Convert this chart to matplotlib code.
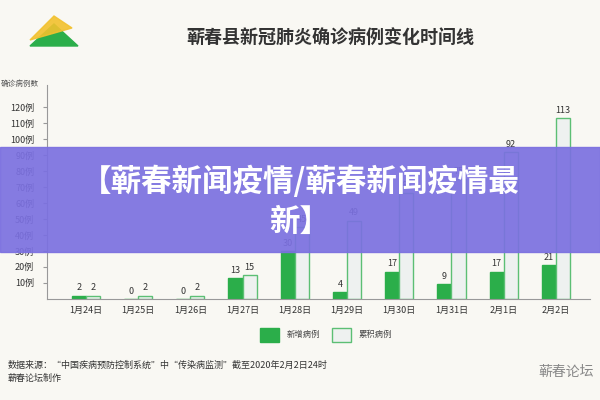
import matplotlib
matplotlib.use("Agg")
import matplotlib.pyplot as plt
import numpy as np
from matplotlib.patches import Polygon, Rectangle

plt.rcParams['font.family'] = ['Noto Sans CJK SC', 'DejaVu Sans']

dates = ["1月24日","1月25日","1月26日","1月27日","1月28日","1月29日","1月30日","1月31日","2月1日","2月2日"]
new_cases = [2,0,0,13,30,4,17,9,17,21]
cum_cases = [2,2,2,15,45,49,66,75,92,113]
yticks = [10,20,30,40,50,60,70,80,90,100,110,120]

bg = '#f9f8f3'
fig = plt.figure(figsize=(6,4), dpi=100, facecolor=bg)
ax = fig.add_axes([0.078, 0.253, 0.905, 0.535], facecolor=bg)
x = np.arange(len(dates))
w = 0.27
ax.bar(x - w/2, new_cases, w, color='#2bae4a', edgecolor='#2bae4a')
ax.bar(x + w/2, cum_cases, w, color='#eef1f0', edgecolor='#5cbf74', linewidth=1)
for i in range(len(x)):
    ax.text(x[i]-w/2, new_cases[i]+2, str(new_cases[i]), ha='center', va='bottom', fontsize=6.5, color='#333')
    ax.text(x[i]+w/2, cum_cases[i]+2, str(cum_cases[i]), ha='center', va='bottom', fontsize=6.5, color='#333')
ax.set_xlim(-0.75, len(dates)-0.35)
ax.set_ylim(0, 134)
ax.set_xticks(x)
ax.set_xticklabels(dates, fontsize=6.5, color='#333')
ax.set_yticks(yticks)
ax.set_yticklabels([f"{v}例" for v in yticks], fontsize=6.5, color='#333')
ax.tick_params(axis='x', length=0, pad=5)
ax.tick_params(axis='y', length=3, color='#999', pad=6)
for s in ['top','right']:
    ax.spines[s].set_visible(False)
for s in ['left','bottom']:
    ax.spines[s].set_color('#999')
fig.text(0.002, 0.79, "确诊病例数", fontsize=5.5, color='#555', va='center')

fig.text(0.55, 0.905, "蕲春县新冠肺炎确诊病例变化时间线", ha='center', va='center', fontsize=13, fontweight='bold', color='#333')
# logo
fig.patches.append(Polygon([[0.05,0.885],[0.13,0.885],[0.09,0.94]], closed=True, transform=fig.transFigure, color='#2bae4a'))
fig.patches.append(Polygon([[0.05,0.90],[0.09,0.96],[0.12,0.93]], closed=True, transform=fig.transFigure, color='#f2c12e', alpha=0.9))

# legend
fig.patches.append(Rectangle((0.433,0.145),0.032,0.036, transform=fig.transFigure, color='#2bae4a'))
fig.text(0.478,0.163,"新增病例",fontsize=6,va='center',color='#444')
fig.patches.append(Rectangle((0.553,0.145),0.032,0.036, transform=fig.transFigure, facecolor='#eef1f0', edgecolor='#5cbf74'))
fig.text(0.598,0.163,"累积病例",fontsize=6,va='center',color='#444')

fig.text(0.013,0.087,"数据来源：“中国疾病预防控制系统”中“传染病监测”截至2020年2月2日24时",fontsize=6.5,va='center',color='#333')
fig.text(0.013,0.055,"蕲春论坛制作",fontsize=6.5,va='center',color='#333')
fig.text(0.99,0.07,"蕲春论坛",fontsize=10,va='center',ha='right',color='#888')

# banner
fig.patches.append(Rectangle((0,0.37),1,0.262, transform=fig.transFigure, color='#7b70e0', alpha=0.92, zorder=10))
fig.text(0.5,0.545,"【蕲春新闻疫情/蕲春新闻疫情最",fontsize=22,fontweight='bold',color='white',ha='center',va='center',zorder=11)
fig.text(0.5,0.445,"新】",fontsize=22,fontweight='bold',color='white',ha='center',va='center',zorder=11)

fig.savefig("out.png", dpi=100, facecolor=bg)
